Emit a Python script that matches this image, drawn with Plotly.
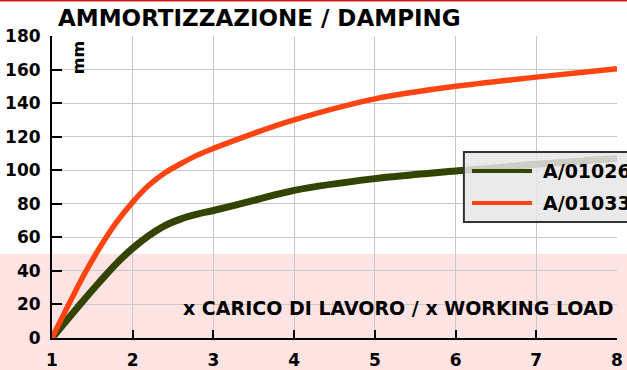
import plotly.graph_objects as go

# Load multiple (x working load) and resulting deflection in mm
load = [1, 1.4, 1.6, 1.8, 2, 2.2, 2.4, 2.6, 2.8, 3, 3.5, 4, 5, 6, 7, 8]
a01026 = [0, 23, 34, 44.5, 53.5, 61, 67, 71, 73.8, 76, 82, 88, 95, 99.5, 103.5, 107]
a01033 = [0, 38, 54.5, 69, 81, 91, 98.5, 104, 109, 113, 122, 130, 142.5, 150, 155.5, 160.5]

series_names = ["A/01026", "A/01033"]
series_colors = ["#334400", "#ff4411"]

y_ticks = list(range(0, 181, 20))
x_ticks = list(range(1, 9))

Y_MAX = 180
BOLD = dict(family="DejaVu Sans", weight="bold", color="black")

fig = go.Figure()
fig.add_trace(go.Scatter(x=load, y=a01026, mode="lines", name=series_names[0],
                         line=dict(color=series_colors[0], width=7, shape="spline", smoothing=0.9),
                         showlegend=False))
fig.add_trace(go.Scatter(x=load, y=a01033, mode="lines", name=series_names[1],
                         line=dict(color=series_colors[1], width=5.5, shape="spline", smoothing=0.9),
                         showlegend=False))

shapes = []
# pink band below 50 mm, across the whole page width
shapes.append(dict(type="rect", xref="paper", yref="paper", x0=-0.2, x1=1.2,
                   y0=-0.3, y1=50 / Y_MAX, fillcolor="#fee3e3", line=dict(width=0),
                   layer="below"))
# thin red rule at the very top of the page
shapes.append(dict(type="line", xref="paper", yref="paper", x0=-0.2, x1=1.2,
                   y0=1.1175, y1=1.1175, line=dict(color="#d01818", width=2)))

# custom legend box
shapes.append(dict(type="rect", xref="paper", yref="paper", x0=0.729, x1=1.15,
                   y0=0.384, y1=0.616, fillcolor="rgba(230,230,230,0.86)",
                   line=dict(color="#333333", width=2), layer="above"))
legend_y = [0.553, 0.447]
for name, color, ly in zip(series_names, series_colors, legend_y):
    shapes.append(dict(type="line", xref="paper", yref="paper", x0=0.7434, x1=0.8496,
                       y0=ly, y1=ly, line=dict(color=color, width=4), layer="above"))

annotations = [
    dict(text="AMMORTIZZAZIONE / DAMPING", xref="paper", yref="paper",
         x=0.007, y=1.06, xanchor="left", yanchor="middle", showarrow=False,
         font=dict(size=23, **BOLD)),
    dict(text="mm", xref="paper", yref="paper", x=0.046, y=0.93,
         xanchor="center", yanchor="middle", textangle=-90, showarrow=False,
         font=dict(size=16, **BOLD)),
    dict(text="x CARICO DI LAVORO / x WORKING LOAD", xref="paper", yref="paper",
         x=0.9965, y=0.1, xanchor="right", yanchor="middle", showarrow=False,
         font=dict(size=19, **BOLD)),
]
for name, ly in zip(series_names, legend_y):
    annotations.append(dict(text=name, xref="paper", yref="paper", x=0.8655, y=ly,
                            xanchor="left", yanchor="middle", showarrow=False,
                            font=dict(size=19, **BOLD)))

fig.update_layout(
    width=627, height=370,
    margin=dict(l=52, r=10, t=36, b=32, autoexpand=False),
    paper_bgcolor="white",
    plot_bgcolor="rgba(0,0,0,0)",
    shapes=shapes,
    annotations=annotations,
    showlegend=False,
)
fig.update_xaxes(range=[1, 8], tickvals=x_ticks, showgrid=True, gridcolor="#c8c8c8",
                 gridwidth=1, zeroline=False, showline=True, linecolor="black",
                 linewidth=2, ticks="inside", ticklen=8, tickwidth=2, tickcolor="black",
                 tickfont=dict(size=17, **BOLD), ticklabelstandoff=6)
fig.update_yaxes(range=[0, Y_MAX], tickvals=y_ticks, showgrid=True, gridcolor="#c8c8c8",
                 gridwidth=1, zeroline=False, showline=True, linecolor="black",
                 linewidth=2, ticks="inside", ticklen=10, tickwidth=2, tickcolor="black",
                 tickfont=dict(size=17, **BOLD), ticklabelstandoff=6)

fig.write_html("out.html")
